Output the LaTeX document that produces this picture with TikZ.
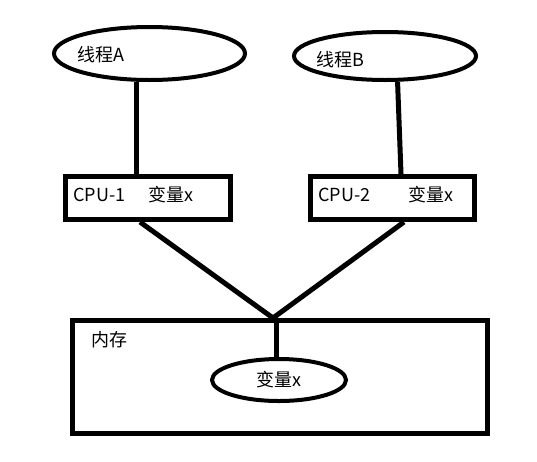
\documentclass[tikz,border=0pt]{standalone}
\usepackage{fontspec}
\setmainfont{Noto Sans CJK SC}
\usetikzlibrary{shapes.geometric,calc}
\tikzset{
  oval/.style={draw=black, line width=4pt, ellipse, inner sep=0pt},
  cpubox/.style={draw=black, line width=5pt, rectangle, inner sep=0pt},
  txt/.style={anchor=west, inner sep=0pt, font=\fontsize{18}{18}\selectfont},
  wire/.style={draw=black, line width=5pt}
}
\begin{document}
\begin{tikzpicture}[x=1pt, y=-1pt]
\path[use as bounding box, fill=white] (0,0) rectangle (537,461);
% threads
\node[oval, minimum width=191pt, minimum height=53pt] (A) at (149.5,53.5) {};
\node[oval, minimum width=182pt, minimum height=48pt] (B) at (385,56) {};
\node[txt] (tA) at (77,55) {线程A};
\node[txt] (tB) at (316,60) {线程B};
% cpus
\node[cpubox, minimum width=165pt, minimum height=43pt] (C1) at (148,198) {};
\node[cpubox, minimum width=164pt, minimum height=43pt] (C2) at (392.5,198) {};
\node[txt] (c1a) at (73,195) {CPU-1};
\node[txt] (c1b) at (148,195) {变量x};
\node[txt] (c2a) at (318,195) {CPU-2};
\node[txt] (c2b) at (408,195) {变量x};
% memory
\node[cpubox, minimum width=415pt, minimum height=113pt] (M) at (280,377) {};
\node[txt] (mem) at (91,340) {内存};
\node[oval, minimum width=134pt, minimum height=42pt, font=\fontsize{18}{18}\selectfont] (V) at (279,380) {变量x};
\coordinate (J) at ($(M.north)+(-7,0)$);
% connectors
\draw[wire] (A.-115) -- (A.-115 |- C1.north);
\draw[wire] (B.-64) -- ($(C2.north)+(8.5,0)$);
\draw[wire] ($(C1.south)+(-8,0)$) -- (J);
\draw[wire] ($(C2.south)+(11.5,0)$) -- (J);
\draw[wire] ($(M.north)+(-4,0)$) -- ($(V.north)+(-3,0)$);
\end{tikzpicture}
\end{document}
